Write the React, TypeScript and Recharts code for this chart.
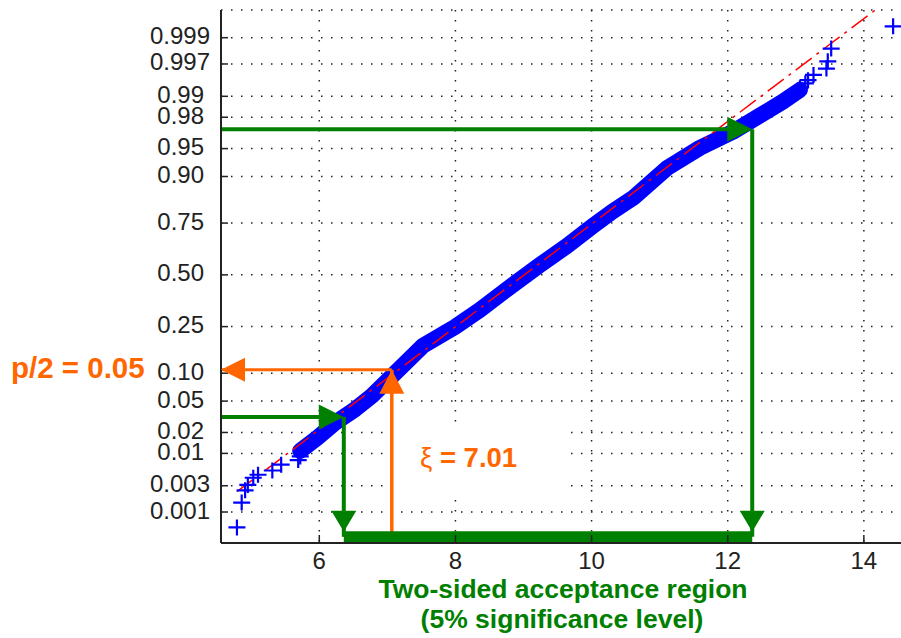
import React from 'react';
import {
  ComposedChart, XAxis, YAxis, CartesianGrid, Line, Scatter,
  ReferenceLine, ReferenceDot, ReferenceArea,
} from 'recharts';

// ---- data ----
const X_TICKS = [6, 8, 10, 12, 14];
const Y_TICK_LABELS = ['0.001', '0.003', '0.01', '0.02', '0.05', '0.10', '0.25', '0.50', '0.75', '0.90', '0.95', '0.98', '0.99', '0.997', '0.999'];

// dense central band of the sample (centre line)
const BAND_X = [5.72, 5.97, 6.23, 6.53, 6.77, 7.07, 7.52, 7.99, 8.36, 8.80, 9.24, 9.64, 10.02, 10.30, 10.61, 11.11, 11.59, 12.08, 12.47, 12.81, 13.06];
const BAND_P = [0.0109, 0.0168, 0.0268, 0.0402, 0.0572, 0.0938, 0.177, 0.248, 0.324, 0.437, 0.551, 0.647, 0.738, 0.794, 0.842, 0.918, 0.951, 0.969, 0.981, 0.988, 0.992];

// isolated tail samples
const LOWER_TAIL_X = [4.79, 4.86, 4.91, 4.95, 5.03, 5.10, 5.31, 5.44, 5.69, 5.72];
const LOWER_TAIL_P = [0.0005, 0.0015, 0.0025, 0.0031, 0.0041, 0.0046, 0.0054, 0.0067, 0.0079, 0.0090];
const UPPER_TAIL_X = [13.06, 13.14, 13.18, 13.26, 13.45, 13.47, 13.52, 14.43];
const UPPER_TAIL_P = [0.9925, 0.9937, 0.9944, 0.9954, 0.9964, 0.9973, 0.9984, 0.9994];

// fitted normal reference line (end points)
const REF_X = [4.79, 14.5];
const REF_P = [0.00236, 0.99988];

// annotation levels
const UPPER_P = 0.971;
const LOWER_P = 0.032;
const XI_P = 0.108;
const BAR_P = 0.00032;
const LOWER_X = 6.36;
const UPPER_X = 12.36;
const XI_X = 7.065;
const XI_BOX_X = [6.95, 9.64];
const XI_BOX_P = [0.00167, 0.026];

const X_DOMAIN = [4.556, 14.575];
const Y_DOMAIN = [-3.494, 3.451];

// ---- helpers ----
function probit(p: number): number {
  const a = [-3.969683028665376e1, 2.209460984245205e2, -2.759285104469687e2, 1.38357751867269e2, -3.066479806614716e1, 2.506628277459239];
  const b = [-5.447609879822406e1, 1.615858368580409e2, -1.556989798598866e2, 6.680131188771972e1, -1.328068155288572e1];
  const c = [-7.784894002430293e-3, -3.223964580411365e-1, -2.400758277161838, -2.549671010243009, 4.374664141464968, 2.938163982698783];
  const d = [7.784695709041462e-3, 3.224671290700398e-1, 2.445134137142996, 3.754408661907416];
  const plow = 0.02425;
  if (p < plow) {
    const q = Math.sqrt(-2 * Math.log(p));
    return (((((c[0] * q + c[1]) * q + c[2]) * q + c[3]) * q + c[4]) * q + c[5]) / ((((d[0] * q + d[1]) * q + d[2]) * q + d[3]) * q + 1);
  }
  if (p <= 1 - plow) {
    const q = p - 0.5;
    const r = q * q;
    return ((((((a[0] * r + a[1]) * r + a[2]) * r + a[3]) * r + a[4]) * r + a[5]) * q) / (((((b[0] * r + b[1]) * r + b[2]) * r + b[3]) * r + b[4]) * r + 1);
  }
  const q = Math.sqrt(-2 * Math.log(1 - p));
  return -(((((c[0] * q + c[1]) * q + c[2]) * q + c[3]) * q + c[4]) * q + c[5]) / ((((d[0] * q + d[1]) * q + d[2]) * q + d[3]) * q + 1);
}

const toPts = (xs: number[], ps: number[]) => xs.map((x, i) => ({ x, z: probit(ps[i]) }));

const bandData = toPts(BAND_X, BAND_P);
const tailData = [...toPts(LOWER_TAIL_X, LOWER_TAIL_P), ...toPts(UPPER_TAIL_X, UPPER_TAIL_P)];
const refData = toPts(REF_X, REF_P);
const Y_TICK_Z = Y_TICK_LABELS.map((l) => probit(parseFloat(l)));

const zU = probit(UPPER_P);
const zL = probit(LOWER_P);
const zXi = probit(XI_P);
const zBar = probit(BAR_P);

const GREEN = '#008000';
const ORANGE = '#FF6600';
const BLUE = '#0000FF';
const FONT = '"Liberation Sans", Arial, Helvetica, sans-serif';

const Cross = (props: any) => {
  const { cx, cy } = props;
  if (cx == null || cy == null) return null;
  return <path d={`M${cx - 8.5},${cy}H${cx + 8.5}M${cx},${cy - 8}V${cy + 8}`} stroke={BLUE} strokeWidth={2.2} fill="none" />;
};

const YTick = (props: any) => {
  const { x, y, payload } = props;
  let idx = 0;
  let best = Infinity;
  Y_TICK_Z.forEach((z, i) => {
    const dd = Math.abs(z - payload.value);
    if (dd < best) { best = dd; idx = i; }
  });
  const label = Y_TICK_LABELS[idx];
  const shift = label.length > 4 ? 6 : 0;
  return (
    <text x={x + shift} y={y} dy={6.5} textAnchor="end" fontSize={24} fill="#222" fontFamily={FONT}>{label}</text>
  );
};

const triRight = (color: string) => (p: any) => {
  const { cx, cy } = p;
  return <polygon points={`${cx},${cy} ${cx - 25},${cy - 12.5} ${cx - 25},${cy + 12.5}`} fill={color} />;
};
const triLeft = (color: string) => (p: any) => {
  const { cx, cy } = p;
  return <polygon points={`${cx},${cy} ${cx + 24},${cy - 12} ${cx + 24},${cy + 12}`} fill={color} />;
};
const triUp = (color: string) => (p: any) => {
  const { cx, cy } = p;
  return <polygon points={`${cx},${cy} ${cx - 12.5},${cy + 24} ${cx + 12.5},${cy + 24}`} fill={color} />;
};
const triDownOnBar = (color: string) => (p: any) => {
  const { cx, cy } = p;
  const tip = cy - 5;
  return <polygon points={`${cx},${tip} ${cx - 12.5},${tip - 21} ${cx + 12.5},${tip - 21}`} fill={color} />;
};

const XiLabel = (props: any) => {
  const vb = props.viewBox || {};
  const x = (vb.x ?? 0) + 36;
  const y = (vb.y ?? 0) + 43;
  return (
    <text x={x} y={y} fontSize={27.5} fontWeight="bold" fill={ORANGE} fontFamily={FONT}>
      <tspan fontWeight="normal">ξ</tspan> = 7.01
    </text>
  );
};

export default function App() {
  return (
    <div style={{ position: 'absolute', left: 0, top: 0, width: 901, height: 638, overflow: 'hidden', background: '#fff' }}>
      <ComposedChart width={912} height={638} margin={{ top: 10, right: 9, bottom: 0, left: 0 }} style={{ fontFamily: FONT }}>
        <CartesianGrid stroke="#222" strokeWidth={1.5} strokeDasharray="1.5 8.5" />
        <XAxis
          type="number" dataKey="x" domain={X_DOMAIN} ticks={X_TICKS} allowDataOverflow interval={0}
          height={95} tickSize={-8} tickMargin={17}
          axisLine={{ stroke: '#222', strokeWidth: 2 }} tickLine={{ stroke: '#222', strokeWidth: 1.5 }}
          tick={{ fontSize: 24, fill: '#222', fontFamily: FONT }}
        />
        <XAxis
          xAxisId="top" orientation="top" type="number" dataKey="x" domain={X_DOMAIN} ticks={X_TICKS} allowDataOverflow interval={0}
          height={0} tickSize={-8} tick={false}
          axisLine={{ stroke: '#222', strokeWidth: 2 }} tickLine={{ stroke: '#222', strokeWidth: 1.5 }}
        />
        <YAxis
          type="number" dataKey="z" domain={Y_DOMAIN} ticks={Y_TICK_Z} allowDataOverflow interval={0}
          width={221} tickSize={-7} tickMargin={24}
          axisLine={{ stroke: '#222', strokeWidth: 2 }} tickLine={{ stroke: '#222', strokeWidth: 1.5 }}
          tick={<YTick />}
        />

        <ReferenceArea x1={XI_BOX_X[0]} x2={XI_BOX_X[1]} y1={probit(XI_BOX_P[0])} y2={probit(XI_BOX_P[1])}
          fill="#fff" fillOpacity={1} stroke="none" ifOverflow="visible" label={<XiLabel />} />

        <Line data={bandData} dataKey="z" type="linear" stroke={BLUE} strokeWidth={16} dot={false}
          strokeLinejoin="round" strokeLinecap="round" isAnimationActive={false} />
        <Scatter data={tailData} dataKey="z" shape={<Cross />} isAnimationActive={false} />
        <Line data={refData} dataKey="z" type="linear" stroke="#FF0000" strokeWidth={1.5} strokeDasharray="20 6 3 6"
          dot={false} isAnimationActive={false} />

        {/* orange: xi and p/2 */}
        <ReferenceLine segment={[{ x: XI_X, y: zBar }, { x: XI_X, y: zXi }]} stroke={ORANGE} strokeWidth={3.5} ifOverflow="visible" />
        <ReferenceLine segment={[{ x: X_DOMAIN[0], y: zXi }, { x: XI_X, y: zXi }]} stroke={ORANGE} strokeWidth={3} ifOverflow="visible" />
        <ReferenceDot x={XI_X} y={zXi} r={1} shape={triUp(ORANGE)} ifOverflow="visible" />
        <ReferenceDot x={X_DOMAIN[0]} y={zXi} r={1} shape={triLeft(ORANGE)} ifOverflow="visible" />

        {/* green: acceptance region */}
        <ReferenceLine segment={[{ x: X_DOMAIN[0], y: zU }, { x: UPPER_X - 0.2, y: zU }]} stroke={GREEN} strokeWidth={4} ifOverflow="visible" />
        <ReferenceLine segment={[{ x: UPPER_X, y: zU }, { x: UPPER_X, y: zBar }]} stroke={GREEN} strokeWidth={4} ifOverflow="visible" />
        <ReferenceLine segment={[{ x: X_DOMAIN[0], y: zL }, { x: LOWER_X - 0.2, y: zL }]} stroke={GREEN} strokeWidth={4} ifOverflow="visible" />
        <ReferenceLine segment={[{ x: LOWER_X, y: zL }, { x: LOWER_X, y: zBar }]} stroke={GREEN} strokeWidth={4} ifOverflow="visible" />
        <ReferenceLine segment={[{ x: LOWER_X, y: zBar }, { x: UPPER_X, y: zBar }]} stroke={GREEN} strokeWidth={11} ifOverflow="visible" />
        <ReferenceDot x={UPPER_X} y={zU} r={1} shape={triRight(GREEN)} ifOverflow="visible" />
        <ReferenceDot x={LOWER_X} y={zL} r={1} shape={triRight(GREEN)} ifOverflow="visible" />
        <ReferenceDot x={UPPER_X} y={zBar} r={1} shape={triDownOnBar(GREEN)} ifOverflow="visible" />
        <ReferenceDot x={LOWER_X} y={zBar} r={1} shape={triDownOnBar(GREEN)} ifOverflow="visible" />

        <text x={11} y={378} fontSize={29.5} fontWeight="bold" fill={ORANGE} fontFamily={FONT}>p/2 = 0.05</text>
        <text x={563} y={598} textAnchor="middle" fontSize={26.5} fontWeight="bold" fill={GREEN} fontFamily={FONT}>Two-sided acceptance region</text>
        <text x={562} y={628} textAnchor="middle" fontSize={26.5} fontWeight="bold" fill={GREEN} fontFamily={FONT}>(5% significance level)</text>
      </ComposedChart>
    </div>
  );
}
